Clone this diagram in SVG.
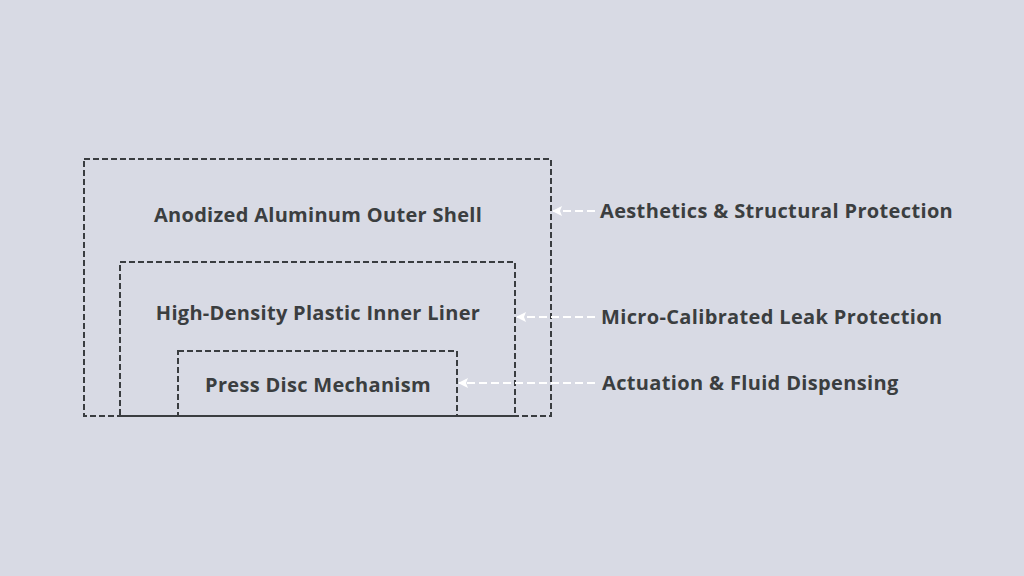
<svg xmlns="http://www.w3.org/2000/svg" width="1024" height="576" viewBox="0 0 1024 576">
<defs>
<style>
.box{fill:none;stroke:#3a3d40;stroke-width:2;stroke-dasharray:6 3}
.t{font-family:"Open Sans","Liberation Sans",sans-serif;font-weight:700;font-size:20px;fill:#3b3e40;letter-spacing:0.3px}
.lbl{font-family:"Open Sans","Liberation Sans",sans-serif;font-weight:700;font-size:20px;fill:#3b3e40;letter-spacing:0.35px}
.arr{fill:none;stroke:#ffffff;stroke-width:2;stroke-dasharray:8 4;marker-end:url(#ah)}
</style>
<marker id="ah" viewBox="0 0 10 10" refX="9" refY="5" markerWidth="5" markerHeight="5" orient="auto" markerUnits="strokeWidth">
<path d="M0,0 L10,5 L0,10 L2,5 z" fill="#ffffff"/>
</marker>
</defs>
<rect width="1024" height="576" fill="#d8dae4"/>
<g id="outer-shell">
<rect class="box" x="84" y="159" width="467" height="257"/>
<text class="t" x="318" y="222" text-anchor="middle">Anodized Aluminum Outer Shell</text>
</g>
<g id="inner-liner">
<rect class="box" x="120" y="262" width="395" height="154"/>
<text class="t" x="318" y="320" text-anchor="middle">High-Density Plastic Inner Liner</text>
</g>
<g id="press-disc">
<rect class="box" x="178" y="351" width="279" height="65"/>
<text class="t" x="318" y="392" text-anchor="middle">Press Disc Mechanism</text>
</g>
<g id="connectors">
<line class="arr" x1="595" y1="211" x2="553" y2="211"/>
<line class="arr" x1="595" y1="317" x2="517" y2="317"/>
<line class="arr" x1="595" y1="383" x2="459" y2="383"/>
</g>
<g id="label-aesthetics"><text class="lbl" x="600" y="218">Aesthetics &amp; Structural Protection</text></g>
<g id="label-leak"><text class="lbl" x="601" y="324">Micro-Calibrated Leak Protection</text></g>
<g id="label-actuation"><text class="lbl" x="602" y="390">Actuation &amp; Fluid Dispensing</text></g>
</svg>
